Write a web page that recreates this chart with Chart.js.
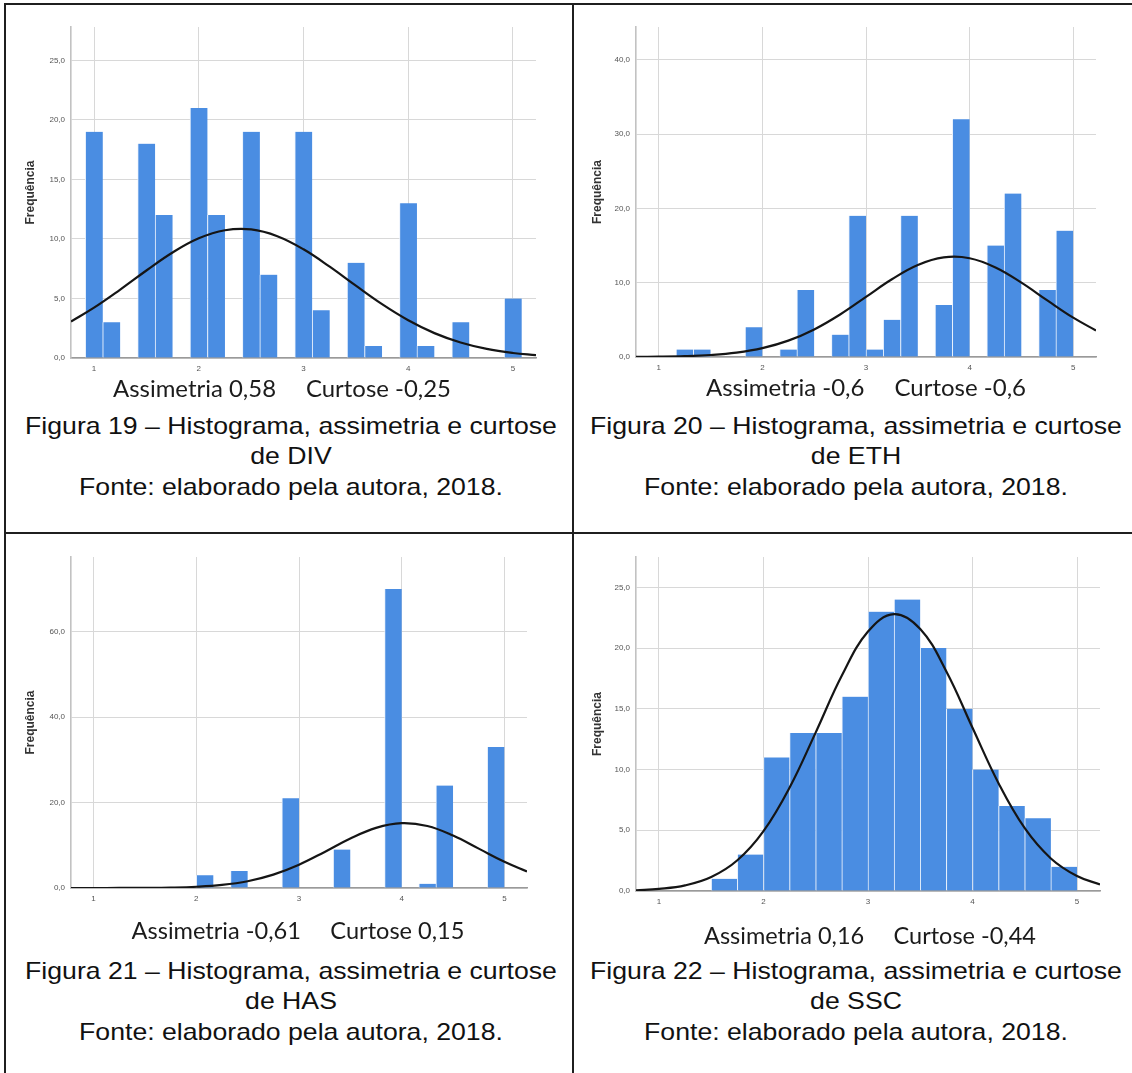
<!DOCTYPE html>
<html lang="pt-BR">
<head>
<meta charset="utf-8">
<title>Histogramas DIV, ETH, HAS e SSC</title>
<script src="https://cdn.jsdelivr.net/npm/chart.js@4.4.1/dist/chart.umd.min.js"></script>
<style>
  html, body { margin: 0; padding: 0; background: #fff; }
  #page { position: relative; width: 1132px; height: 1073px; overflow: hidden; background: #fff; }
  .rule { position: absolute; background: #1f1f1f; }
  .plot { position: absolute; }
  .txt { position: absolute; white-space: nowrap; line-height: 1; transform-origin: 50% 50%; }
  .cap { font-family: "Liberation Sans", Arial, sans-serif; font-size: 24px; color: #111; }
  .stat { font-family: Lato, "Open Sans", sans-serif; font-size: 24px; color: #1b1b1b; }
  .stat span + span { margin-left: 30px; }
</style>
</head>
<body>
<div id="page">
  <div class="rule" style="left:4px;top:3px;width:1128px;height:2px"></div>
  <div class="rule" style="left:4px;top:3px;width:2px;height:1070px"></div>
  <div class="rule" style="left:572px;top:3px;width:2px;height:1070px"></div>
  <div class="rule" style="left:4px;top:532px;width:1128px;height:2px"></div>

  <canvas id="cDIV" class="plot" width="572" height="410" style="left:0;top:0"></canvas>
  <canvas id="cETH" class="plot" width="560" height="410" style="left:572px;top:0"></canvas>
  <canvas id="cHAS" class="plot" width="572" height="410" style="left:0;top:530px"></canvas>
  <canvas id="cSSC" class="plot" width="560" height="410" style="left:572px;top:530px"></canvas>
</div>

<script>
// ---- data ---------------------------------------------------------------
const xTicks = [1, 2, 3, 4, 5];

// bin centres and frequencies
const divBins   = [1.0, 1.1667, 1.5, 1.6667, 2.0, 2.1667, 2.5, 2.6667, 3.0, 3.1667, 3.5, 3.6667, 4.0, 4.1667, 4.5, 5.0];
const divCounts = [19, 3, 18, 12, 21, 12, 19, 7, 19, 4, 8, 1, 13, 1, 3, 5];

const ethBins   = [1.25, 1.4167, 1.9167, 2.25, 2.4167, 2.75, 2.9167, 3.0833, 3.25, 3.4167, 3.75, 3.9167, 4.25, 4.4167, 4.75, 4.9167];
const ethCounts = [1, 1, 4, 1, 9, 3, 19, 1, 5, 19, 7, 32, 15, 22, 9, 17];

const hasBins   = [2.0833, 2.4167, 2.9167, 3.4167, 3.9167, 4.25, 4.4167, 4.9167];
const hasCounts = [3, 4, 21, 9, 70, 1, 24, 33];

const sscBins   = [1.625, 1.875, 2.125, 2.375, 2.625, 2.875, 3.125, 3.375, 3.625, 3.875, 4.125, 4.375, 4.625, 4.875];
const sscCounts = [1, 3, 11, 13, 13, 16, 23, 24, 20, 15, 10, 7, 6, 2];

// normal curve, sampled along the axis
const curveX   = [0.78, 1.0, 1.25, 1.5, 1.75, 2.0, 2.25, 2.5, 2.75, 3.0, 3.25, 3.5, 3.75, 4.0, 4.25, 4.5, 4.75, 5.0, 5.22];
const divCurve = [3.07, 4.23, 5.75, 7.35, 8.86, 10.05, 10.73, 10.80, 10.23, 9.13, 7.67, 6.07, 4.52, 3.17, 2.09, 1.30, 0.76, 0.42, 0.24];
const ethCurve = [0.02, 0.04, 0.11, 0.27, 0.59, 1.19, 2.20, 3.71, 5.72, 8.09, 10.46, 12.38, 13.40, 13.29, 12.05, 10.00, 7.61, 5.29, 3.57];
const hasCurve = [0.00, 0.00, 0.01, 0.03, 0.10, 0.29, 0.72, 1.59, 3.13, 5.46, 8.45, 11.59, 14.09, 15.19, 14.51, 12.28, 9.22, 6.14, 3.88];
const sscCurve = [0.06, 0.17, 0.46, 1.15, 2.53, 4.93, 8.52, 13.06, 17.74, 21.36, 22.80, 21.57, 18.08, 13.44, 8.86, 5.17, 2.68, 1.23, 0.54];

// frequency axis ticks and ranges
const divYTicks = [0, 5, 10, 15, 20, 25];
const ethYTicks = [0, 10, 20, 30, 40];
const hasYTicks = [0, 20, 40, 60];
const sscYTicks = [0, 5, 10, 15, 20, 25];
const divYMax = 27.8, ethYMax = 44.4, hasYMax = 77.5, sscYMax = 27.5;

// skewness / kurtosis lines and captions
const divStats = ['Assimetria 0,58', 'Curtose -0,25'];
const ethStats = ['Assimetria -0,6', 'Curtose -0,6'];
const hasStats = ['Assimetria -0,61', 'Curtose 0,15'];
const sscStats = ['Assimetria 0,16', 'Curtose -0,44'];

const divCaption = ['Figura 19 – Histograma, assimetria e curtose', 'de DIV', 'Fonte: elaborado pela autora, 2018.'];
const ethCaption = ['Figura 20 – Histograma, assimetria e curtose', 'de ETH', 'Fonte: elaborado pela autora, 2018.'];
const hasCaption = ['Figura 21 – Histograma, assimetria e curtose', 'de HAS', 'Fonte: elaborado pela autora, 2018.'];
const sscCaption = ['Figura 22 – Histograma, assimetria e curtose', 'de SSC', 'Fonte: elaborado pela autora, 2018.'];

// ---- drawing ------------------------------------------------------------
const X_MIN = 0.78, X_MAX = 5.22;
const BAR = 'rgb(74,141,226)';
const BAR_EDGE = 'rgba(232,240,252,0.95)';
const GRID = '#d8d8d8';

Chart.defaults.font.family = '"Liberation Sans", Arial, sans-serif';

function histogram(id, bins, counts, curve, yTicks, yMax, box) {
  return new Chart(document.getElementById(id), {
    type: 'bar',
    data: {
      datasets: [
        {
          type: 'line',
          data: curveX.map((x, i) => ({ x: x, y: curve[i] })),
          borderColor: '#151515',
          borderWidth: 2.2,
          pointRadius: 0,
          tension: 0.4,
          order: 0
        },
        {
          type: 'bar',
          data: bins.map((x, i) => ({ x: x, y: counts[i] })),
          backgroundColor: BAR,
          borderColor: BAR_EDGE,
          borderWidth: { left: 1, right: 0, top: 0, bottom: 0 },
          barPercentage: 1,
          categoryPercentage: 1,
          order: 1
        }
      ]
    },
    options: {
      responsive: false,
      animation: false,
      events: [],
      layout: { autoPadding: false, padding: { left: 0, top: box.top, right: box.right, bottom: 0 } },
      plugins: { legend: { display: false }, tooltip: { enabled: false } },
      scales: {
        x: {
          type: 'linear',
          min: X_MIN,
          max: X_MAX,
          offset: false,
          afterBuildTicks: s => { s.ticks = xTicks.map(v => ({ value: v })); },
          afterFit: s => { s.height = box.xHeight; },
          grid: { color: GRID, lineWidth: 1, drawTicks: false, offset: false },
          border: { color: '#9a9a9a', width: 1.6 },
          ticks: { font: { size: 8 }, color: '#555', padding: 6, maxRotation: 0, autoSkip: false }
        },
        y: {
          type: 'linear',
          min: 0,
          max: yMax,
          afterBuildTicks: s => { s.ticks = yTicks.map(v => ({ value: v })); },
          afterFit: s => { s.width = box.yWidth; },
          grid: { color: GRID, lineWidth: 1, drawTicks: false },
          border: { color: '#c2c2c2', width: 1.6 },
          ticks: { font: { size: 8 }, color: '#555', padding: 6, autoSkip: false,
                   callback: v => v.toFixed(1).replace('.', ',') },
          title: {
            display: true,
            text: 'Frequência',
            color: '#333',
            font: { size: 12, weight: 'bold' },
            padding: { top: box.titleX - 7.2, bottom: 0 }
          }
        }
      }
    }
  });
}

histogram('cDIV', divBins, divCounts, divCurve, divYTicks, divYMax, { top: 27, right: 36, xHeight: 52, yWidth: 71, titleX: 31 });
histogram('cETH', ethBins, ethCounts, ethCurve, ethYTicks, ethYMax, { top: 27, right: 36, xHeight: 53, yWidth: 64, titleX: 26 });
histogram('cHAS', hasBins, hasCounts, hasCurve, hasYTicks, hasYMax, { top: 27, right: 45, xHeight: 52, yWidth: 71, titleX: 31 });
histogram('cSSC', sscBins, sscCounts, sscCurve, sscYTicks, sscYMax, { top: 27, right: 32, xHeight: 49, yWidth: 64, titleX: 26 });

// ---- text below each plot ----------------------------------------------
const page = document.getElementById('page');

function makeText(cls, parts) {
  const el = document.createElement('div');
  el.className = 'txt ' + cls;
  parts.forEach(p => {
    const s = document.createElement('span');
    s.textContent = p;
    el.appendChild(s);
  });
  page.appendChild(el);
  return el;
}

function place(el, cx, cy, k) {
  el.style.left = cx + 'px';
  el.style.top = cy + 'px';
  el.style.transform = 'translate(-50%,-50%) scaleX(' + k + ')';
}

function statLine(parts, cx, cy, width) {
  const el = makeText('stat', parts);
  place(el, cx, cy, width / el.offsetWidth);
}

function caption(lines, cx, ys, width) {
  const els = lines.map(l => makeText('cap', [l]));
  const k = width / els[0].offsetWidth;
  els.forEach((el, i) => place(el, cx, ys[i], k));
}

statLine(divStats, 282, 388, 338);
statLine(ethStats, 866, 387, 320);
statLine(hasStats, 298, 930, 333);
statLine(sscStats, 870, 935, 332);

caption(divCaption, 291, [426, 456, 487], 532);
caption(ethCaption, 856, [426, 456, 487], 532);
caption(hasCaption, 291, [971, 1001, 1032], 532);
caption(sscCaption, 856, [971, 1001, 1032], 532);
</script>
</body>
</html>
